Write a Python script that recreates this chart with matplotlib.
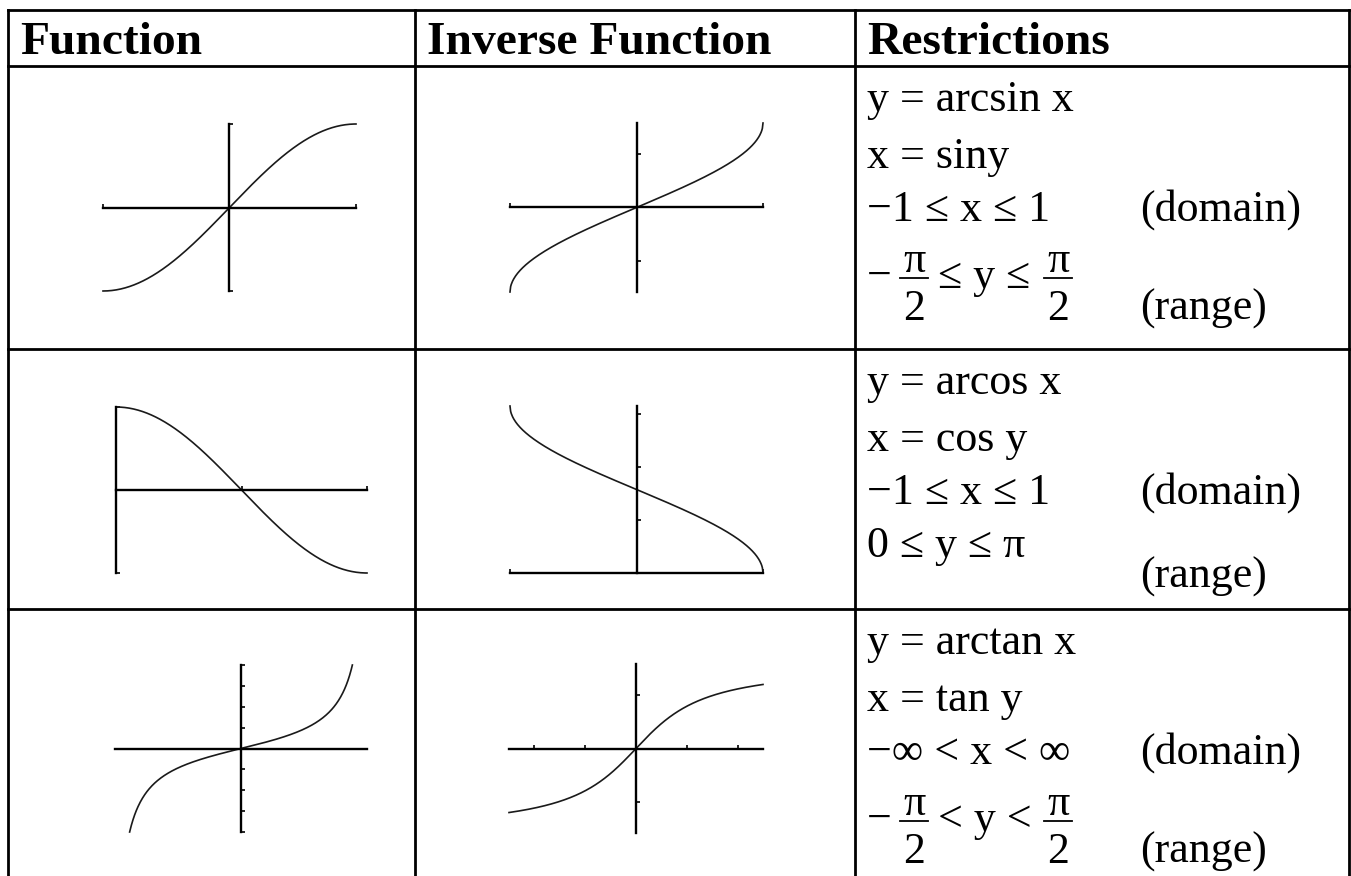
import numpy as np
import matplotlib.pyplot as plt

plt.rcParams['font.family'] = ['Liberation Serif', 'DejaVu Serif']

W, H = 1351, 876

################ table content ################
headers = ['Function', 'Inverse Function', 'Restrictions']

# calculator windows: xmin, xmax, ymin, ymax, xscl, yscl
func_win = [(-np.pi / 2, np.pi / 2, -1, 1, np.pi / 2, 1),
            (0, np.pi, -1, 1, np.pi / 2, 1),
            (-1.5, 1.5, -4, 4, None, 1)]
inv_win = [(-1, 1, -np.pi / 2, np.pi / 2, 1, 1),
           (-1, 1, 0, np.pi, 1, 1),
           (-2.5, 2.5, -np.pi / 2, np.pi / 2, 1, 1)]
func_f = [np.sin, np.cos, np.tan]
inv_f = [np.arcsin, np.arccos, np.arctan]
# plotted x ranges
func_x = [(-np.pi / 2, np.pi / 2), (0, np.pi), (-np.arctan(4), np.arctan(4))]
inv_x = [(-1, 1), (-1, 1), (-2.5, 2.5)]

restr_lines = [['y = arcsin x', 'x = siny', '\u22121 \u2264 x \u2264 1'],
               ['y = arcos x', 'x = cos y', '\u22121 \u2264 x \u2264 1', '0 \u2264 y \u2264 \u03c0'],
               ['y = arctan x', 'x = tan y', '\u2212\u221e < x < \u221e']]
range_rel = ['\u2264', None, '<']

################ layout (pixels) ################
col_edges = [8, 415, 855, 1349]
row_edges = [10, 66, 349, 609, 878]
func_box = [(103, 356, 124, 291), (116, 367, 407, 573), (115, 367, 665, 832)]
inv_box = [(510, 763, 123, 292), (510, 763, 406, 573), (509, 763, 664, 833)]

fig = plt.figure(figsize=(W / 100, H / 100), dpi=100)
tab = fig.add_axes([0, 0, 1, 1])
tab.set_xlim(0, W)
tab.set_ylim(H, 0)
tab.axis('off')

lw_tab = 2.0
for y in row_edges:
    tab.plot([col_edges[0], col_edges[-1]], [y, y], color='black', lw=lw_tab, solid_capstyle='projecting')
for x in col_edges:
    tab.plot([x, x], [row_edges[0], row_edges[-1]], color='black', lw=lw_tab, solid_capstyle='projecting')

hsize = 34.2
bsize = 31.7
for i, h in enumerate(headers):
    tab.text(col_edges[i] + 12, 54, h, fontsize=hsize, fontweight='bold', va='baseline', ha='left')


def frac(xc, ybar, rel_size):
    tab.plot([xc - 14, xc + 14], [ybar, ybar], color='black', lw=1.3)
    tab.text(xc, ybar - 6, '\u03c0', fontsize=rel_size, ha='center', va='baseline')
    tab.text(xc, ybar + 42, '2', fontsize=rel_size, ha='center', va='baseline')


tx = col_edges[2] + 12
for r, lines in enumerate(restr_lines):
    top = row_edges[r + 1]
    offs = [45, 102, 155, 208]
    for k, s in enumerate(lines):
        tab.text(tx, top + offs[k], s, fontsize=bsize, va='baseline', ha='left')
    tab.text(1140, top + offs[2], '(domain)', fontsize=bsize, va='baseline', ha='left')
    if range_rel[r] is not None:
        ybar = top + 212
        tab.text(tx, ybar + 10, '\u2212', fontsize=bsize, va='baseline', ha='left')
        frac(914, ybar, bsize)
        tab.text(938, ybar + 10, range_rel[r] + ' y ' + range_rel[r], fontsize=bsize,
                 va='baseline', ha='left')
        frac(1058, ybar, bsize)
        tab.text(1140, top + 254, '(range)', fontsize=bsize, va='baseline', ha='left')
    else:
        tab.text(1140, top + 239, '(range)', fontsize=bsize, va='baseline', ha='left')


def graph(box, win, f, xr):
    x0, x1, y0, y1 = box
    ax = fig.add_axes([x0 / W, 1 - y1 / H, (x1 - x0) / W, (y1 - y0) / H])
    ax.patch.set_alpha(0)
    xmin, xmax, ymin, ymax, xscl, yscl = win
    ax.set_xlim(xmin, xmax)
    ax.set_ylim(ymin, ymax)
    for s in ['top', 'right']:
        ax.spines[s].set_visible(False)
    ax.spines['left'].set_position(('data', 0))
    ax.spines['bottom'].set_position(('data', 0))
    for s in ['left', 'bottom']:
        ax.spines[s].set_linewidth(1.7)
    xt = []
    if xscl:
        n = int(np.floor(max(abs(xmin), abs(xmax)) / xscl + 1e-9))
        xt = [k * xscl for k in range(-n, n + 1) if k != 0 and xmin - 1e-9 <= k * xscl <= xmax + 1e-9]
    n = int(np.floor(max(abs(ymin), abs(ymax)) / yscl + 1e-9))
    yt = [k * yscl for k in range(-n, n + 1) if k != 0 and ymin - 1e-9 <= k * yscl <= ymax + 1e-9]
    ax.set_xticks(xt)
    ax.set_yticks(yt)
    ax.tick_params(direction='in', length=2.6, width=1.2, labelbottom=False, labelleft=False)
    xs = np.linspace(xr[0], xr[1], 400)
    ax.plot(xs, f(xs), color='#1a1a1a', lw=1.2, clip_on=False)


for r in range(3):
    graph(func_box[r], func_win[r], func_f[r], func_x[r])
    graph(inv_box[r], inv_win[r], inv_f[r], inv_x[r])

fig.savefig('out.png', dpi=100)
